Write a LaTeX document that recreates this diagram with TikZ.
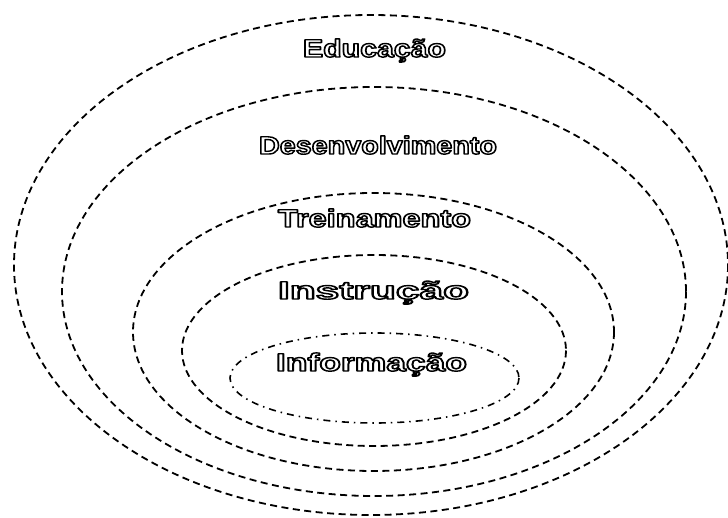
\documentclass[tikz,border=0pt]{standalone}
\usepackage{fontspec}
\setmainfont{Liberation Sans}
\usepackage{graphicx}
\usetikzlibrary{positioning}

% hohle Schrift: weiss gefuellt, schwarz umrandet (Textrendermodus 2), auf Breite gezogen
\newcommand{\hollowword}[2]{\resizebox{#1}{\height}{\textcolor{white}{%
  \special{pdf:literal direct 0 G 1.4 w 1 j 2 Tr}#2\special{pdf:literal direct 0 Tr}}}}

\begin{document}
\begin{tikzpicture}[
    x=1pt, y=-1pt,
    ring/.style={line width=1.8pt, dash pattern=on 7pt off 4.5pt},
    innerring/.style={line width=1.6pt, dash pattern=on 7pt off 5pt on 1.5pt off 5pt},
    word/.style={inner sep=0pt, anchor=base, font=\fontsize{25}{27}\selectfont\bfseries}
]
\useasboundingbox (0,0) rectangle (728,518);

% --- ELLIPSEN ---
\draw[ring] (371,265) ellipse [x radius=357, y radius=250];
\draw[ring] (374,291.5) ellipse [x radius=312, y radius=204.5];
\draw[ring] (373.5,332) ellipse [x radius=240.5, y radius=139];
\draw[ring] (374,350.5) ellipse [x radius=192, y radius=95.5];
\draw[innerring] (374.5,378) ellipse [x radius=144.5, y radius=45];

% --- TEXTE ---
\node[word] (edu) at (374.5,57) {\hollowword{143pt}{Educação}};
\node[word] (dev) at (378,154) {\hollowword{238pt}{Desenvolvimento}};
\node[word] (tre) at (374.5,227) {\hollowword{193pt}{Treinamento}};
\node[word] (ins) at (373.5,299) {\hollowword{191pt}{Instrução}};
\node[word] (inf) at (371.5,371) {\hollowword{191pt}{Informação}};

\end{tikzpicture}
\end{document}
